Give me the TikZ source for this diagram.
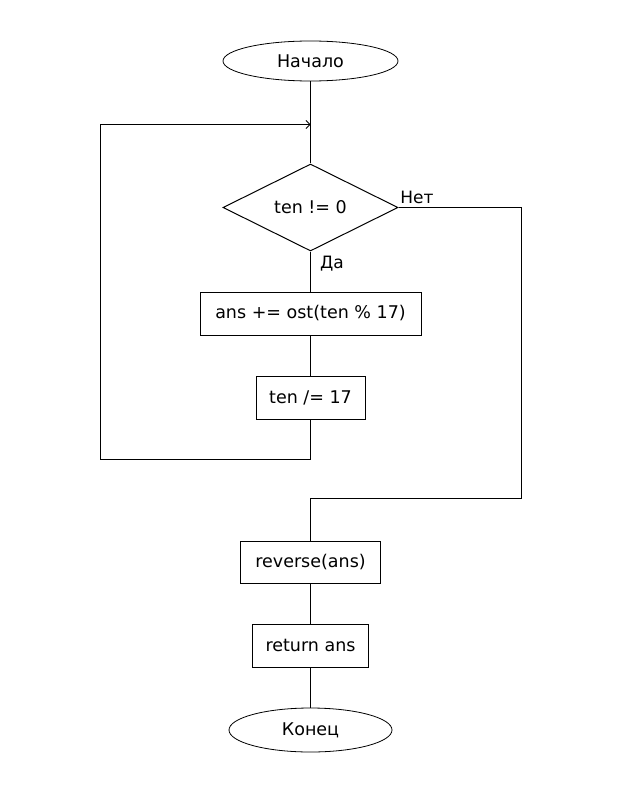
\documentclass[tikz,border=0pt]{standalone}
\usepackage{fontspec}
\setmainfont{DejaVu Sans}
\usetikzlibrary{shapes.geometric,arrows.meta}
\begin{document}
\begin{tikzpicture}[x=1pt,y=-1pt,
  every node/.style={font=\fontsize{17.5}{20}\selectfont, inner sep=0pt},
  flow/.style={line width=1pt},
  terminal/.style={draw, line width=0.8pt, ellipse},
  procbox/.style={draw, line width=1pt, rectangle},
  decision/.style={draw, line width=1pt, diamond, minimum width=175pt, minimum height=87pt},
  lbl/.style={font=\fontsize{17}{20}\selectfont}]
  \useasboundingbox (0,0) rectangle (622,792);

  % blocks
  \node[terminal, minimum width=175pt, minimum height=40pt] (start) at (310.5,61) {Начало};
  \node[decision] (cond) at (310.5,207.5) {ten != 0};
  \node[procbox, minimum width=221pt, minimum height=43pt] (body) at (310.5,313.5) {ans += ost(ten \% 17)};
  \node[procbox, minimum width=109pt, minimum height=43pt] (div) at (310.5,397.5) {ten /= 17};
  \node[procbox, minimum width=140pt, minimum height=42pt] (rev) at (310.5,562) {reverse(ans)};
  \node[procbox, minimum width=116pt, minimum height=43pt] (ret) at (310.5,645.5) {return ans};
  \node[terminal, minimum width=163pt, minimum height=44pt] (stop) at (310.5,730) {Конец};

  % branch labels
  \node[lbl] (no) at (417,197) {Нет};
  \node[lbl] (yes) at (332,264) {Да};

  % routing points
  \coordinate (merge) at (310.5,124.5);
  \coordinate (loopBL) at (100.5,459.5);
  \coordinate (noBR) at (521.5,498.5);

  % connectors
  \draw[flow] (start) -- (cond);
  \draw[flow] (cond) -- (body);
  \draw[flow] (body) -- (div);
  \draw[flow, -{Straight Barb[length=4pt,width=8pt,line width=0.8pt]}]
    (div.south) |- (loopBL) |- (merge);
  \draw[flow] (cond.east) -| (noBR) -| (rev.north);
  \draw[flow] (rev) -- (ret);
  \draw[flow] (ret) -- (stop);
\end{tikzpicture}
\end{document}
